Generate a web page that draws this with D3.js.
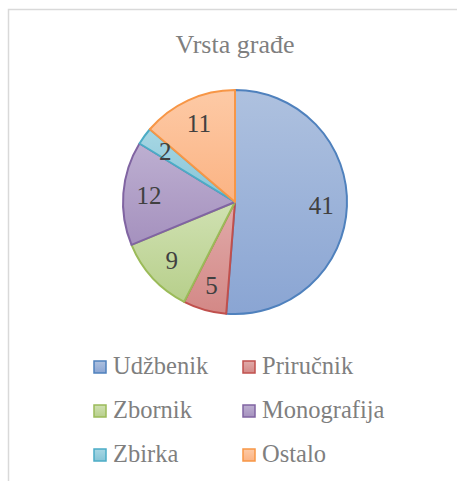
<!DOCTYPE html>
<html>
<head>
<meta charset="utf-8">
<script src="https://cdn.jsdelivr.net/npm/d3@7"></script>
<style>
  body { margin: 0; background: #fff; }
  svg { display: block; }
  text { font-family: "Liberation Serif", "DejaVu Serif", serif; }
</style>
</head>
<body>
<div id="chart"></div>
<script>
const title = "Vrsta građe";
const categories = ["Udžbenik", "Priručnik", "Zbornik", "Monografija", "Zbirka", "Ostalo"];
const values = [41, 5, 9, 12, 2, 11];
const strokeColors = ["#4f81bd", "#c0504d", "#9bbb59", "#8064a2", "#4bacc6", "#f79646"];
const lightColors = ["#aec1df", "#e1abaa", "#d0e1b2", "#bdafd1", "#a7d7e4", "#fdcaa6"];
const darkColors = ["#8aa5d3", "#d38886", "#b7cf8b", "#a591be", "#86c4d6", "#fbb383"];

const width = 457, height = 481;
const cx = 235, cy = 202, r = 112;

const svg = d3.select("#chart").append("svg").attr("width", width).attr("height", height);

// chart frame (cropped on right and bottom)
svg.append("rect").attr("x", 8.5).attr("y", 9.5).attr("width", 600).attr("height", 600)
    .attr("fill", "none").attr("stroke", "#d9d9d9").attr("stroke-width", 1.5);

const defs = svg.append("defs");
categories.forEach((c, i) => {
    const g = defs.append("linearGradient").attr("id", "grad" + i)
        .attr("x1", 0).attr("y1", 0).attr("x2", 0).attr("y2", 1);
    g.append("stop").attr("offset", "0%").attr("stop-color", lightColors[i]);
    g.append("stop").attr("offset", "100%").attr("stop-color", darkColors[i]);
});

svg.append("text").attr("x", cx).attr("y", 53).attr("text-anchor", "middle")
    .attr("font-size", 26).attr("fill", "#7f7f7f").text(title);

const data = categories.map((c, i) => ({name: c, value: values[i], i: i}));
const pie = d3.pie().sort(null).value(d => d.value);
const arc = d3.arc().innerRadius(0).outerRadius(r);
const labelArc = d3.arc().innerRadius(r * 0.77).outerRadius(r * 0.77);

const g = svg.append("g").attr("transform", "translate(" + cx + "," + cy + ")");
const arcs = pie(data);

g.selectAll("path").data(arcs).enter().append("path")
    .attr("d", arc)
    .attr("fill", d => "url(#grad" + d.data.i + ")")
    .attr("stroke", d => strokeColors[d.data.i])
    .attr("stroke-width", 2)
    .attr("stroke-linejoin", "round");

g.selectAll("text").data(arcs).enter().append("text")
    .attr("x", d => labelArc.centroid(d)[0])
    .attr("y", d => labelArc.centroid(d)[1])
    .attr("dy", "0.35em")
    .attr("text-anchor", "middle")
    .attr("font-size", 25)
    .attr("fill", "#404040")
    .text(d => d.data.value);

// legend: 2 columns, 3 rows
const colX = [93, 242];
const rowY = [374, 418, 462];
const legend = svg.append("g");
data.forEach((d, i) => {
    const x = colX[i % 2], y = rowY[Math.floor(i / 2)];
    legend.append("rect").attr("x", x + 1).attr("y", y - 13).attr("width", 12).attr("height", 12)
        .attr("fill", "url(#grad" + i + ")").attr("stroke", strokeColors[i]).attr("stroke-width", 1.5);
    legend.append("text").attr("x", x + 20).attr("y", y)
        .attr("font-size", 24.5).attr("fill", "#7f7f7f").text(d.name);
});
</script>
</body>
</html>
